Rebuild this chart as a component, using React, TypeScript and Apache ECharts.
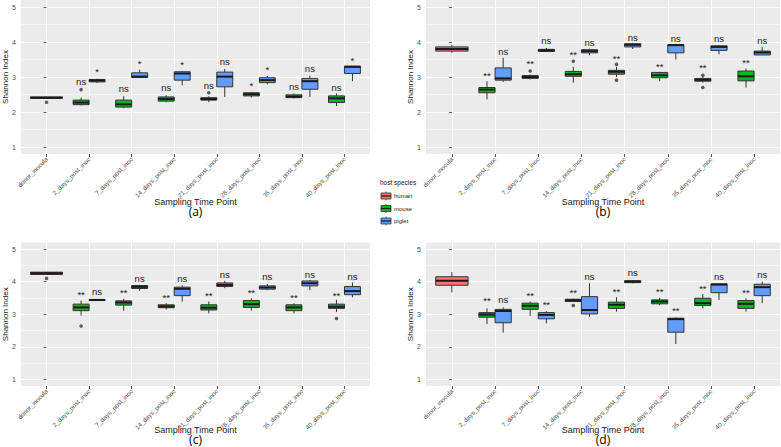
import React, { useEffect, useRef } from 'react';
import * as echarts from 'echarts';

// ---------- data ----------
const categories = [
  'donor_inocula', '2_days_post_inoc', '7_days_post_inoc', '14_days_post_inoc',
  '21_days_post_inoc', '28_days_post_inoc', '35_days_post_inoc', '40_days_post_inoc',
];
const yTicks = [1, 2, 3, 4, 5];
const yMinorTicks = [1.5, 2.5, 3.5, 4.5];
const groupNames = ['human', 'mouse', 'piglet'];
const panelLetters = ['(a)', '(b)', '(c)', '(d)'];

// box rows: [lowerWhisker, Q1, median, Q3, upperWhisker]
// human -> donor_inocula only; mouse/piglet -> categories 1..7
const humanA = [[2.37, 2.39, 2.41, 2.43, 2.44]];
const mouseA = [
  [2.19, 2.21, 2.27, 2.34, 2.41], [2.11, 2.14, 2.22, 2.34, 2.45], [2.28, 2.31, 2.37, 2.43, 2.48],
  [2.28, 2.34, 2.37, 2.41, 2.45], [2.41, 2.46, 2.51, 2.55, 2.57], [2.39, 2.41, 2.44, 2.49, 2.53],
  [2.17, 2.27, 2.39, 2.46, 2.53],
];
const pigletA = [
  [2.83, 2.86, 2.90, 2.93, 2.95], [2.98, 2.99, 3.01, 3.12, 3.21], [2.76, 2.91, 3.10, 3.15, 3.17],
  [2.43, 2.72, 3.01, 3.14, 3.23], [2.79, 2.84, 2.91, 2.98, 3.03], [2.43, 2.65, 2.88, 2.96, 3.04],
  [2.88, 3.10, 3.29, 3.31, 3.31],
];
const humanOutA = [[0, 2.28]];
const mouseOutA = [[1, 2.64], [4, 2.55]];
const pigletOutA: number[][] = [];
const mouseSigA = ['ns', 'ns', 'ns', 'ns', '*', 'ns', 'ns'];
const mouseSigYA = [2.88, 2.67, 2.69, 2.77, 2.75, 2.74, 2.70];
const pigletSigA = ['*', '*', '*', 'ns', '*', 'ns', '*'];
const pigletSigYA = [3.17, 3.40, 3.36, 3.43, 3.22, 3.24, 3.48];

const humanB = [[3.69, 3.74, 3.80, 3.86, 3.92]];
const mouseB = [
  [2.36, 2.55, 2.64, 2.70, 2.88], [2.93, 2.96, 3.00, 3.04, 3.07], [2.84, 3.02, 3.08, 3.16, 3.29],
  [3.00, 3.08, 3.15, 3.19, 3.29], [2.88, 2.98, 3.05, 3.13, 3.15], [2.84, 2.88, 2.92, 2.96, 3.00],
  [2.70, 2.89, 3.02, 3.17, 3.24],
];
const pigletB = [
  [2.86, 2.91, 2.96, 3.26, 3.55], [3.72, 3.73, 3.76, 3.79, 3.83], [3.62, 3.69, 3.74, 3.78, 3.81],
  [3.80, 3.86, 3.92, 3.95, 3.98], [3.50, 3.69, 3.91, 3.92, 3.95], [3.65, 3.76, 3.86, 3.89, 3.91],
  [3.63, 3.63, 3.70, 3.74, 3.86],
];
const humanOutB: number[][] = [];
const mouseOutB = [[2, 3.17], [3, 3.45], [4, 3.36], [4, 2.91], [6, 3.05], [6, 2.70]];
const pigletOutB: number[][] = [];
const mouseSigB = ['**', '**', '**', '**', '**', '**', '**'];
const mouseSigYB = [3.05, 3.40, 3.65, 3.52, 3.31, 3.27, 3.41];
const pigletSigB = ['ns', 'ns', 'ns', 'ns', 'ns', 'ns', 'ns'];
const pigletSigYB = [3.74, 4.04, 3.99, 4.14, 4.11, 4.10, 4.05];

const humanC = [[4.21, 4.22, 4.26, 4.29, 4.30]];
const mouseC = [
  [2.96, 3.11, 3.21, 3.31, 3.42], [3.11, 3.28, 3.36, 3.41, 3.47], [3.15, 3.20, 3.24, 3.29, 3.34],
  [3.03, 3.13, 3.20, 3.29, 3.39], [3.11, 3.21, 3.31, 3.42, 3.49], [3.03, 3.11, 3.21, 3.29, 3.34],
  [3.07, 3.18, 3.23, 3.31, 3.44],
];
const pigletC = [
  [3.42, 3.42, 3.44, 3.45, 3.45], [3.72, 3.79, 3.84, 3.88, 3.90], [3.39, 3.57, 3.78, 3.83, 3.89],
  [3.80, 3.85, 3.90, 3.96, 4.02], [3.74, 3.77, 3.82, 3.87, 3.93], [3.74, 3.87, 3.95, 4.02, 4.05],
  [3.52, 3.60, 3.71, 3.85, 3.97],
];
const humanOutC = [[0, 4.10]];
const mouseOutC = [[1, 2.64], [7, 2.87]];
const pigletOutC: number[][] = [];
const mouseSigC = ['**', '**', '**', '**', '**', '**', '**'];
const mouseSigYC = [3.60, 3.66, 3.52, 3.56, 3.68, 3.52, 3.59];
const pigletSigC = ['ns', 'ns', 'ns', 'ns', 'ns', 'ns', 'ns'];
const pigletSigYC = [3.71, 4.10, 4.10, 4.23, 4.15, 4.23, 4.17];

const humanD = [[3.67, 3.89, 4.03, 4.15, 4.29]];
const mouseD = [
  [2.70, 2.91, 2.99, 3.05, 3.18], [2.95, 3.15, 3.26, 3.34, 3.39], [3.39, 3.39, 3.43, 3.46, 3.48],
  [3.08, 3.18, 3.29, 3.37, 3.52], [3.28, 3.32, 3.39, 3.44, 3.50], [3.18, 3.27, 3.34, 3.49, 3.62],
  [3.08, 3.18, 3.32, 3.42, 3.49],
];
const pigletD = [
  [2.44, 2.74, 3.10, 3.15, 3.21], [2.72, 2.86, 2.98, 3.05, 3.10], [2.92, 3.01, 3.13, 3.54, 3.95],
  [3.95, 3.97, 4.00, 4.03, 4.05], [2.09, 2.45, 2.85, 2.88, 2.90], [3.44, 3.66, 3.91, 3.93, 3.93],
  [3.34, 3.57, 3.83, 3.92, 4.00],
];
const humanOutD: number[][] = [];
const mouseOutD = [[3, 3.27]];
const pigletOutD: number[][] = [];
const mouseSigD = ['**', '**', '**', '**', '**', '**', '**'];
const mouseSigYD = [3.41, 3.57, 3.67, 3.71, 3.71, 3.80, 3.67];
const pigletSigD = ['ns', '**', 'ns', 'ns', '**', 'ns', 'ns'];
const pigletSigYD = [3.46, 3.29, 4.17, 4.28, 3.11, 4.17, 4.22];

// ---------- styling / layout ----------
const FONT = '"Liberation Sans", Arial, sans-serif';
const SIG_FONT = '"Liberation Sans Narrow", "Liberation Sans", Arial, sans-serif';
const COLORS: Record<string, string> = { human: '#F8766D', mouse: '#00B81A', piglet: '#619CFF' };
const DODGE: Record<string, { off: number; w: number }> = {
  human: { off: 0, w: 0.75 },
  mouse: { off: -0.1875, w: 0.375 },
  piglet: { off: 0.1875, w: 0.375 },
};
const RECTS = [
  { left: 21, top: 0, width: 349, height: 154 },
  { left: 426, top: 0, width: 354, height: 154 },
  { left: 21, top: 242.5, width: 349, height: 143.5 },
  { left: 426, top: 242.5, width: 354, height: 143.5 },
];

const panelData = [
  { human: humanA, mouse: mouseA, piglet: pigletA, out: { human: humanOutA, mouse: mouseOutA, piglet: pigletOutA },
    sig: { mouse: [mouseSigA, mouseSigYA], piglet: [pigletSigA, pigletSigYA] } },
  { human: humanB, mouse: mouseB, piglet: pigletB, out: { human: humanOutB, mouse: mouseOutB, piglet: pigletOutB },
    sig: { mouse: [mouseSigB, mouseSigYB], piglet: [pigletSigB, pigletSigYB] } },
  { human: humanC, mouse: mouseC, piglet: pigletC, out: { human: humanOutC, mouse: mouseOutC, piglet: pigletOutC },
    sig: { mouse: [mouseSigC, mouseSigYC], piglet: [pigletSigC, pigletSigYC] } },
  { human: humanD, mouse: mouseD, piglet: pigletD, out: { human: humanOutD, mouse: mouseOutD, piglet: pigletOutD },
    sig: { mouse: [mouseSigD, mouseSigYD], piglet: [pigletSigD, pigletSigYD] } },
];

function boxRenderer(group: string) {
  const { off, w } = DODGE[group];
  const color = COLORS[group];
  return (params: any, api: any) => {
    const xc = api.value(0) + off;
    const lo = api.coord([xc, api.value(1)]);
    const q1 = api.coord([xc, api.value(2)]);
    const med = api.coord([xc, api.value(3)]);
    const q3 = api.coord([xc, api.value(4)]);
    const hi = api.coord([xc, api.value(5)]);
    const hw = api.size([w, 0])[0] / 2;
    const px = lo[0];
    return {
      type: 'group',
      children: [
        { type: 'line', shape: { x1: px, y1: hi[1], x2: px, y2: q3[1] }, style: { stroke: '#333333', lineWidth: 1 } },
        { type: 'line', shape: { x1: px, y1: q1[1], x2: px, y2: lo[1] }, style: { stroke: '#333333', lineWidth: 1 } },
        { type: 'rect', shape: { x: px - hw, y: q3[1], width: hw * 2, height: Math.max(q1[1] - q3[1], 0.5) },
          style: { fill: color, stroke: '#333333', lineWidth: 1 } },
        { type: 'line', shape: { x1: px - hw, y1: med[1], x2: px + hw, y2: med[1] }, style: { stroke: '#1a1a1a', lineWidth: 2 } },
      ],
    };
  };
}

function sigRenderer(group: string, texts: string[]) {
  const { off } = DODGE[group];
  return (params: any, api: any) => {
    const p = api.coord([api.value(0) + off, api.value(1)]);
    return {
      type: 'text',
      x: p[0],
      y: p[1],
      style: { text: texts[params.dataIndex], align: 'center', verticalAlign: 'middle', fontSize: 9.5, fill: '#1a1a1a', fontFamily: SIG_FONT },
    };
  };
}

function buildOption() {
  const grid: any[] = [];
  const xAxis: any[] = [];
  const yAxis: any[] = [];
  const series: any[] = [];
  const graphic: any[] = [];
  const catIdx = categories.map((_, i) => i);

  RECTS.forEach((r, i) => {
    grid.push({ left: r.left, top: r.top, width: r.width, height: r.height, show: true, backgroundColor: '#EBEBEB', borderWidth: 0, containLabel: false, outerBoundsMode: 'none' });
    xAxis.push({
      gridIndex: i, type: 'value', min: -0.6, max: 7.6,
      axisLine: { show: false },
      axisTick: { show: true, customValues: catIdx, length: 3, lineStyle: { color: '#333333', width: 0.8 } },
      axisLabel: { show: true, customValues: catIdx, formatter: (v: number) => categories[Math.round(v)], rotate: 45, fontSize: 6.3, color: '#4D4D4D', margin: 4, fontFamily: FONT },
      splitLine: { show: true, lineStyle: { color: '#FFFFFF', width: 1.1 } },
    });
    yAxis.push({
      gridIndex: i, type: 'value', min: 0.8, max: 5.2,
      axisLine: { show: false },
      axisTick: { show: true, customValues: yTicks, length: 3, lineStyle: { color: '#333333', width: 0.8 } },
      axisLabel: { show: true, customValues: yTicks, fontSize: 7, color: '#4D4D4D', margin: 5, fontFamily: FONT },
      splitLine: { show: true, lineStyle: { color: '#FFFFFF', width: 1.1 } },
    });
    yAxis.push({
      gridIndex: i, type: 'value', min: 0.8, max: 5.2, position: 'left',
      axisLine: { show: false },
      axisTick: { show: false, customValues: yMinorTicks },
      axisLabel: { show: false, customValues: yMinorTicks },
      splitLine: { show: true, lineStyle: { color: '#FFFFFF', width: 0.5 } },
    });

    const pd: any = panelData[i];
    groupNames.forEach((g) => {
      const rows: number[][] = pd[g];
      const startCat = g === 'human' ? 0 : 1;
      series.push({
        type: 'custom', name: g, xAxisIndex: i, yAxisIndex: i * 2, z: 3,
        renderItem: boxRenderer(g),
        encode: { x: 0, y: [1, 2, 3, 4, 5] },
        data: rows.map((row, k) => [startCat + k, ...row]),
      });
      const outs: number[][] = pd.out[g];
      if (outs.length) {
        series.push({
          type: 'scatter', xAxisIndex: i, yAxisIndex: i * 2, z: 4, symbol: 'circle', symbolSize: 3.6,
          itemStyle: { color: '#333333' },
          data: outs.map(([c, v]) => [c + DODGE[g].off, v]),
        });
      }
      if (g !== 'human') {
        const [texts, ys] = pd.sig[g];
        series.push({
          type: 'custom', xAxisIndex: i, yAxisIndex: i * 2, z: 5,
          renderItem: sigRenderer(g, texts),
          encode: { x: 0, y: 1 },
          data: ys.map((y: number, k: number) => [k + 1, y]),
        });
      }
    });

    const cx = r.left + r.width / 2;
    const isTop = i < 2;
    graphic.push({
      type: 'text', x: cx, y: isTop ? 201.5 : 429.5,
      style: { text: 'Sampling Time Point', fontSize: 9, fill: '#1a1a1a', align: 'center', verticalAlign: 'middle', fontFamily: FONT },
    });
    graphic.push({
      type: 'text', x: cx, y: isTop ? 211.5 : 439.5,
      style: { text: panelLetters[i], fontSize: 12, lineHeight: 12, fill: '#000000', align: 'center', verticalAlign: 'middle', fontFamily: '"Open Sans", sans-serif' },
    });
    graphic.push({
      type: 'text', x: r.left - 15.5, y: r.top + r.height / 2, rotation: Math.PI / 2,
      style: { text: 'Shannon Index', fontSize: 8, fill: '#1a1a1a', align: 'center', verticalAlign: 'middle', fontFamily: FONT },
    });
  });

  // legend
  graphic.push({
    type: 'text', x: 380, y: 182,
    style: { text: 'host species', fontSize: 6.5, fill: '#1a1a1a', align: 'left', verticalAlign: 'middle', fontFamily: FONT },
  });
  groupNames.forEach((g, k) => {
    const cy = 196 + k * 12.5;
    graphic.push({ type: 'line', shape: { x1: 386, y1: cy - 4.5, x2: 386, y2: cy + 4.5 }, style: { stroke: '#333333', lineWidth: 0.8 } });
    graphic.push({ type: 'rect', shape: { x: 381, y: cy - 3, width: 10, height: 6 }, style: { fill: COLORS[g], stroke: '#333333', lineWidth: 0.8 } });
    graphic.push({ type: 'line', shape: { x1: 381, y1: cy, x2: 391, y2: cy }, style: { stroke: '#1a1a1a', lineWidth: 1.2 } });
    graphic.push({
      type: 'text', x: 394, y: cy,
      style: { text: g, fontSize: 6, fill: '#1a1a1a', align: 'left', verticalAlign: 'middle', fontFamily: FONT },
    });
  });

  return {
    animation: false,
    backgroundColor: '#FFFFFF',
    textStyle: { fontFamily: FONT },
    grid, xAxis, yAxis, series, graphic,
  };
}

export default function App() {
  const ref = useRef<HTMLDivElement>(null);
  useEffect(() => {
    if (!ref.current) return;
    const chart = echarts.init(ref.current, null, { renderer: 'svg' });
    chart.setOption(buildOption() as any);
    return () => chart.dispose();
  }, []);
  return <div ref={ref} style={{ position: 'absolute', left: 0, top: 0, width: 781, height: 447 }} />;
}
